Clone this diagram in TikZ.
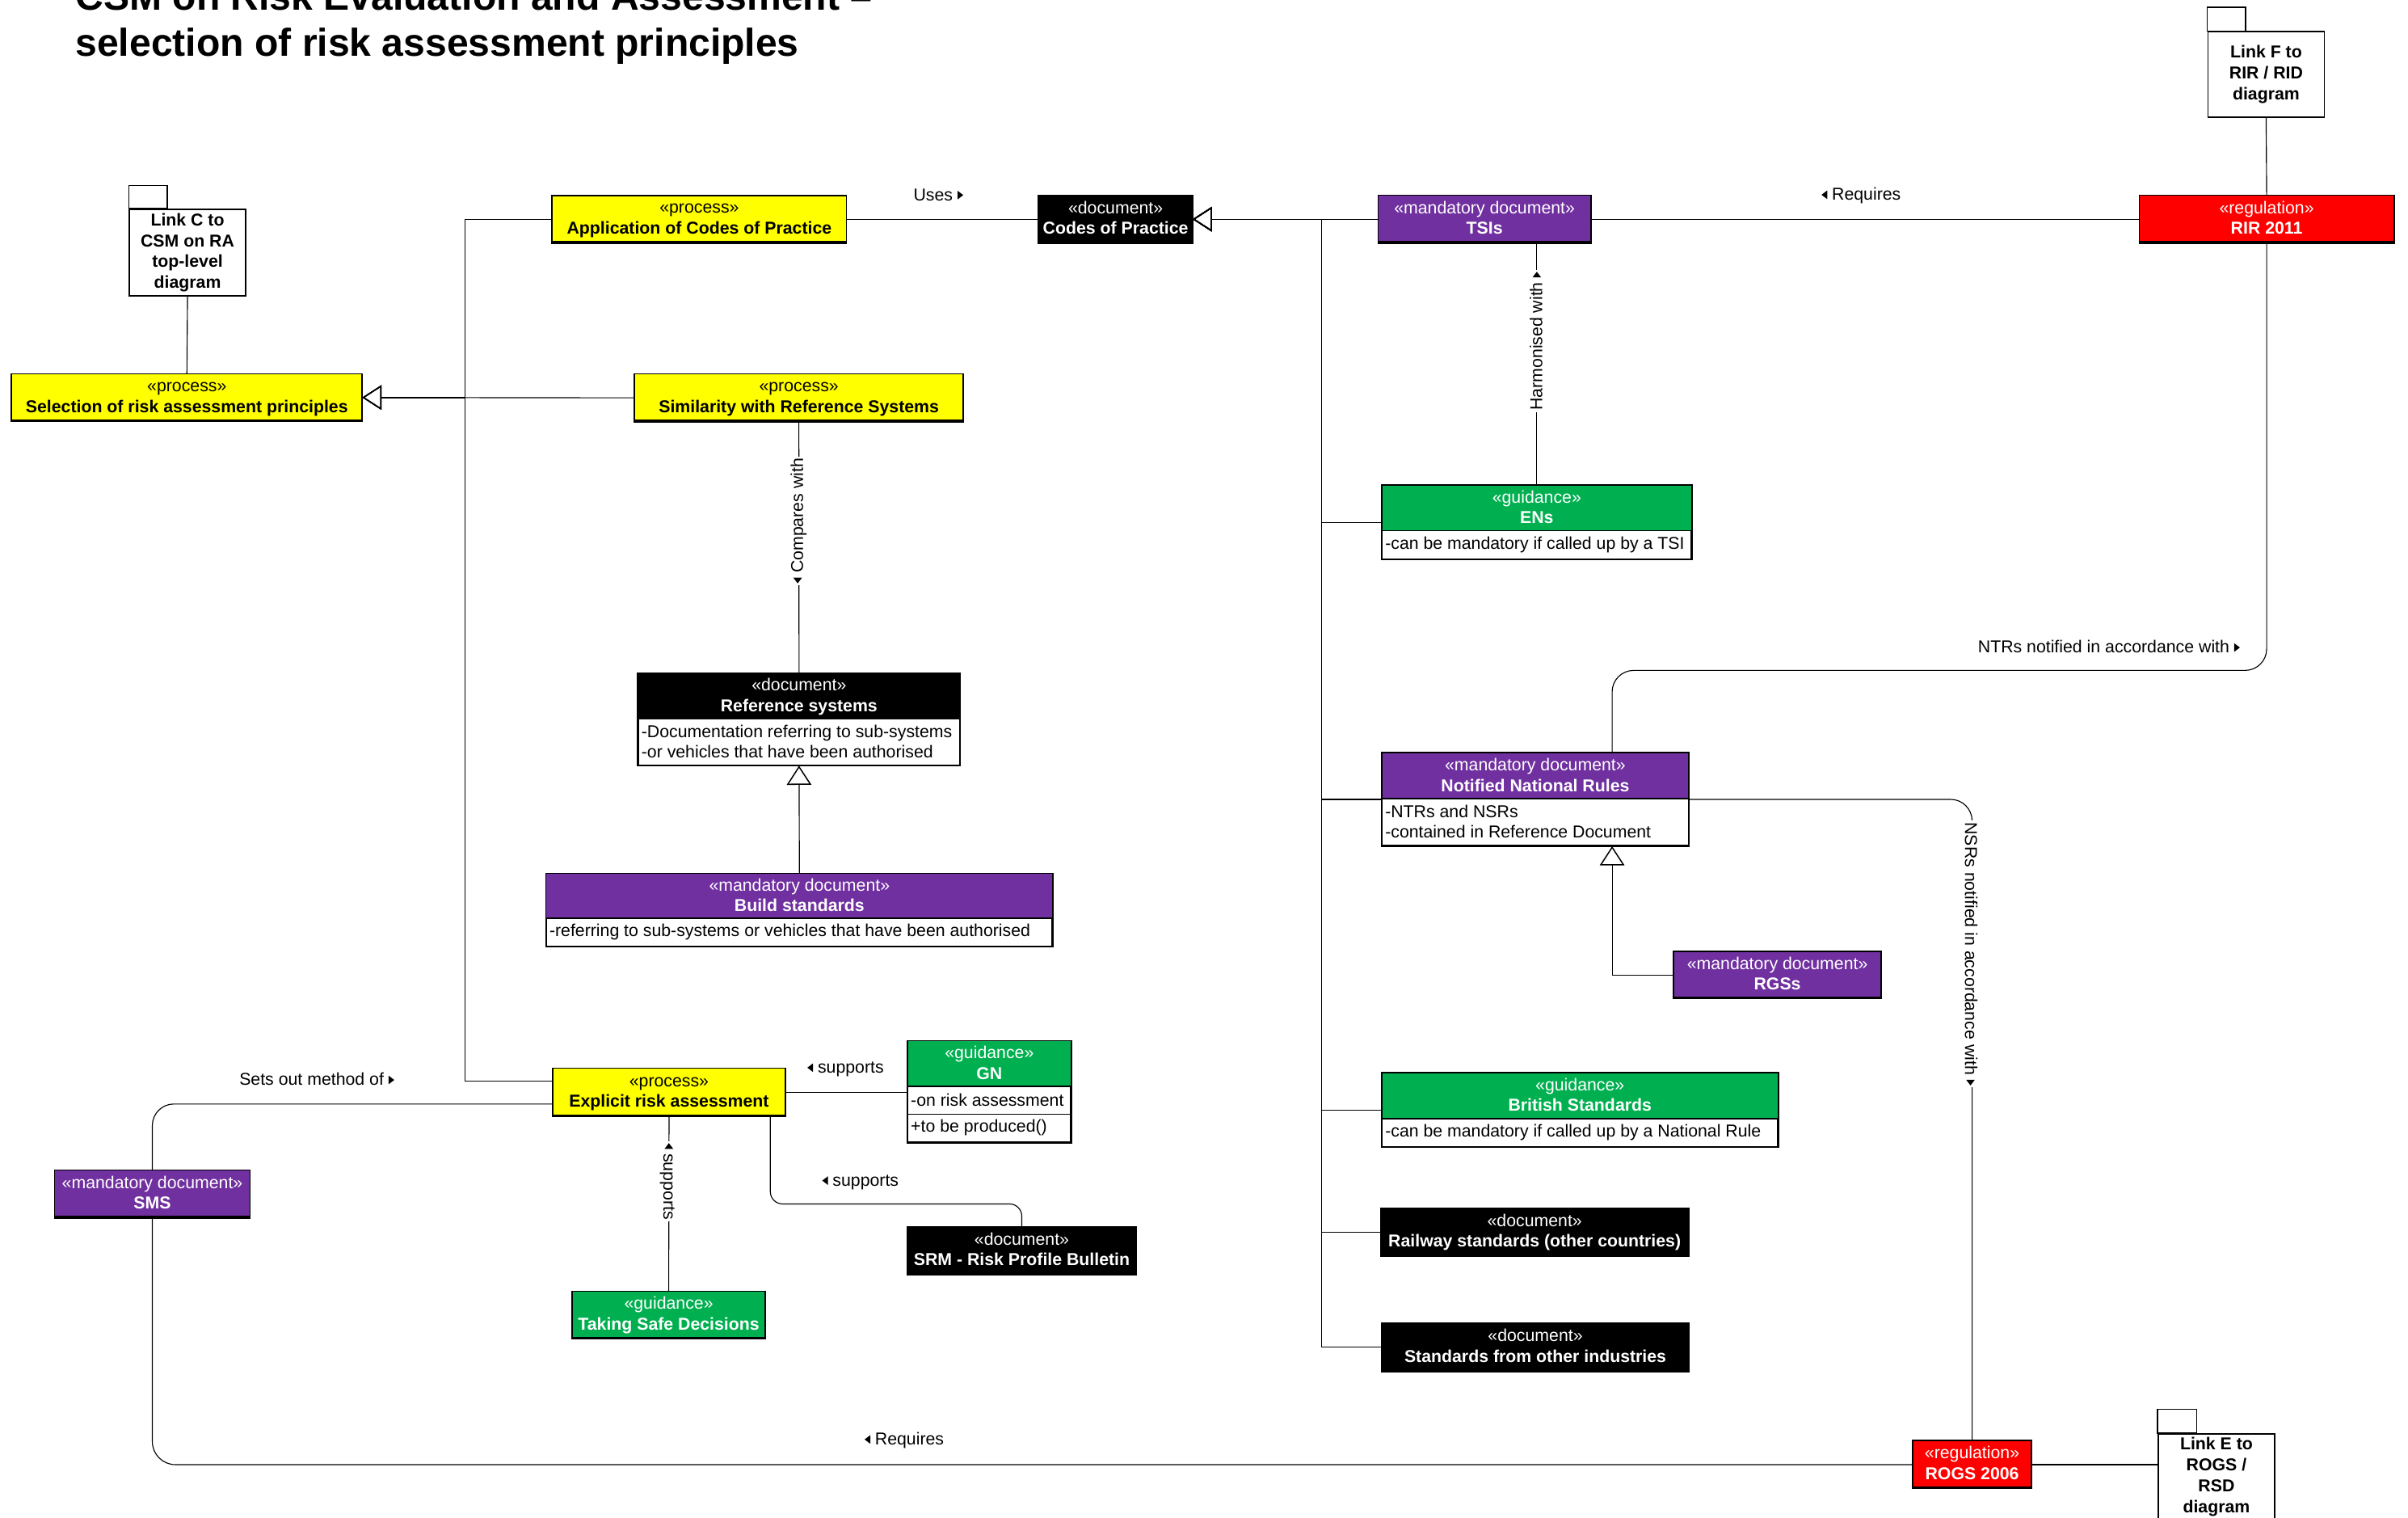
\documentclass[tikz,border=0pt]{standalone}
\usepackage{fontspec}
\setmainfont{Liberation Sans}
\usetikzlibrary{arrows.meta,calc}

\definecolor{procY}{HTML}{FFFF00}
\definecolor{mandP}{HTML}{7030A0}
\definecolor{guidG}{HTML}{00B050}
\definecolor{regR}{HTML}{FF0000}

% small direction triangles used in connector labels
\newcommand{\rtri}{\tikz[baseline=0pt,x=1pt,y=1pt]\fill (0,0.7) -- (3.7,3.5) -- (0,6.3) -- cycle;}
\newcommand{\ltri}{\tikz[baseline=0pt,x=1pt,y=1pt]\fill (3.7,0.7) -- (0,3.5) -- (3.7,6.3) -- cycle;}
% struts keeping the two header lines at fixed positions
\newcommand{\hs}{\rule{0pt}{9pt}}
\newcommand{\ds}{\rule[-2pt]{0pt}{2pt}}

\tikzset{
  frame/.style={draw=black, line width=0.9pt},
  box/.style={frame, fill=white, inner sep=0pt, anchor=north west},
  proc/.style={fill=procY}, proc txt/.style={text=black},
  docu/.style={fill=black}, docu txt/.style={text=white},
  mand/.style={fill=mandP}, mand txt/.style={text=white},
  guid/.style={fill=guidG}, guid txt/.style={text=white},
  regl/.style={fill=regR}, regl txt/.style={text=white},
  htxt/.style={inner sep=0pt, align=center, font=\fontsize{11.2}{13.5}\selectfont},
  attr/.style={inner xsep=2.2pt, inner ysep=0pt, anchor=west, align=left, text=black, font=\fontsize{11.2}{13.4}\selectfont},
  pkg/.style={box, align=center, font=\fontsize{11.2}{13.6}\selectfont\bfseries},
  conn/.style={draw=black, line width=0.6pt},
  gen/.style={conn, -{Triangle[open, length=12.5pt, width=16pt, line width=0.8pt]}},
  lbl/.style={inner sep=0pt, anchor=base west, font=\fontsize{11.2}{13}\selectfont},
  vlbl/.style={inner sep=1.2pt, fill=white, font=\fontsize{11.2}{13}\selectfont},
}

% class box: name, colour style, x, y (top left), width, total height, header height, stereotype, title
\newcommand{\umlclass}[9]{%
  \node[box, minimum width=#5pt, minimum height=#6pt] (#1) at (#3,#4) {};
  \fill[#2] (#1.north west) rectangle ($(#1.north east)+(0,#7)$);
  \draw[frame] (#1.north west) rectangle (#1.south east);
  \draw[frame] ($(#1.north west)+(0,#7)$) -- ($(#1.north east)+(0,#7)$);
  \node[htxt, #2 txt] (#1-name) at ($(#1.north)+(0,#7/2)$) {\hs«#8»\\\textbf{#9}\ds};
}

\begin{document}
\begin{tikzpicture}[x=1pt, y=-1pt]
\useasboundingbox (0,0) rectangle (1568,988);
\clip (0,0) rectangle (1568,988);
\fill[white] (0,0) rectangle (1568,988);

% title
\node[anchor=base west, inner sep=0pt, font=\fontsize{25.3}{30}\selectfont\bfseries] (title1) at (49,6.5) {CSM on Risk Evaluation and Assessment –};
\node[anchor=base west, inner sep=0pt, font=\fontsize{25.3}{30}\selectfont\bfseries] (title2) at (49,36.5) {selection of risk assessment principles};

% processes
\umlclass{sel}{proc}{7.5}{243.3}{227.5}{30}{30}{process}{Selection of risk assessment principles}
\umlclass{app}{proc}{359.5}{127.2}{190.8}{30.1}{30.1}{process}{Application of Codes of Practice}
\umlclass{sim}{proc}{413.2}{243.3}{213.1}{30.4}{30.4}{process}{Similarity with Reference Systems}
\umlclass{era}{proc}{360}{695.4}{150.4}{30.4}{30.4}{process}{Explicit risk assessment}

% documents and regulations
\umlclass{cop}{docu}{676.3}{127}{99.4}{30.5}{30.5}{document}{Codes of Practice}
\umlclass{tsi}{mand}{897.4}{127}{137.6}{30.5}{30.5}{mandatory document}{TSIs}
\umlclass{rir}{regl}{1393}{127}{165}{30.5}{30.5}{regulation}{RIR 2011}

\umlclass{ens}{guid}{899.6}{315.7}{201.3}{47.7}{29.8}{guidance}{ENs}
\node[attr] (ens-a) at ($(ens.north west)+(0,38.8)$) {-can be mandatory if called up by a TSI};

\umlclass{refs}{docu}{415.3}{438.1}{209.1}{59.4}{30}{document}{Reference systems}
\node[attr] (refs-a) at ($(refs.north west)+(0,44.7)$) {-Documentation referring to sub-systems\\-or vehicles that have been authorised};

\umlclass{build}{mand}{355.4}{568.5}{329.4}{46.9}{29.3}{mandatory document}{Build standards}
\node[attr] (build-a) at ($(build.north west)+(0,38.1)$) {-referring to sub-systems or vehicles that have been authorised};

\umlclass{nnr}{mand}{899.6}{489.9}{199.3}{60}{30.1}{mandatory document}{Notified National Rules}
\node[attr] (nnr-a) at ($(nnr.north west)+(0,45)$) {-NTRs and NSRs\\-contained in Reference Document};

\umlclass{rgs}{mand}{1089.6}{619.2}{134.6}{30}{30}{mandatory document}{RGSs}

\umlclass{bs}{guid}{899.6}{698.1}{257.5}{47.9}{30.1}{guidance}{British Standards}
\node[attr] (bs-a) at ($(bs.north west)+(0,39)$) {-can be mandatory if called up by a National Rule};

\umlclass{rw}{docu}{899}{786.4}{199.7}{30.5}{30.5}{document}{Railway standards (other countries)}
\umlclass{soi}{docu}{899.5}{861}{199.6}{31}{31}{document}{Standards from other industries}

\umlclass{gn}{guid}{590.7}{677.5}{106.1}{65.6}{29.8}{guidance}{GN}
\draw[frame] ($(gn.north west)+(0,47.8)$) -- ($(gn.north east)+(0,47.8)$);
\node[attr] (gn-a) at ($(gn.north west)+(0,38.8)$) {-on risk assessment};
\node[attr] (gn-o) at ($(gn.north west)+(0,56.7)$) {+to be produced()};

\umlclass{sms}{mand}{35.5}{761.7}{126.5}{30.2}{30.2}{mandatory document}{SMS}
\umlclass{tsd}{guid}{372.7}{840.5}{124.6}{30}{30}{guidance}{Taking Safe Decisions}
\umlclass{srm}{docu}{590.7}{798.6}{148.4}{30.1}{30.1}{document}{SRM - Risk Profile Bulletin}
\umlclass{rogs}{regl}{1245.6}{937.8}{76.2}{30.3}{30.3}{regulation}{ROGS 2006}

% links to other diagrams
\node[pkg, minimum width=75.5pt, minimum height=56.2pt] (linkC) at (83.9,135.9) {Link C to\\CSM on RA\\top-level\\diagram};
\draw[frame, fill=white] (linkC.north west) rectangle ++(25.2,-15.2);
\node[pkg, minimum width=75.7pt, minimum height=55.7pt] (linkF) at (1437.3,20.2) {Link F to\\RIR / RID\\diagram};
\draw[frame, fill=white] (linkF.north west) rectangle ++(25.1,-15.3);
\node[pkg, minimum width=76pt, minimum height=56pt] (linkE) at (1404.8,932.8) {Link E to\\ROGS /\\RSD\\diagram};
\draw[frame, fill=white] (linkE.north west) rectangle ++(25.6,-15.4);

% generalisations
\coordinate (jl) at ($(sel.east)+(67,0)$);
\coordinate (jr) at ($(cop.east)+(84,0)$);
\draw[gen] (sim.west) -- (sel.east);
\draw[gen] (app.west) -| (jl) -- (sel.east);
\draw[gen] ($(era.west)+(0,-7.3)$) -| (jl) -- (sel.east);
\draw[conn, line width=1.1pt, shorten >=12.5pt] (jl) -- (sel.east);
\draw[gen] (tsi.west) -- (cop.east);
\foreach \n in {ens,nnr,bs,rw,soi} \draw[gen] (\n.west) -| (jr) -- (cop.east);
\draw[gen] (build.north) -- (refs.south);
\coordinate (ntr) at ($(nnr.north west)!0.75!(nnr.north east)$);
\coordinate (nsb) at ($(nnr.south west)!0.75!(nnr.south east)$);
\draw[gen] (rgs.west) -| (nsb);

% associations
\draw[conn] (linkC.south) -- (sel.north);
\draw[conn] (app.east) -- (cop.west);
\draw[conn] (tsi.east) -- (rir.west);
\draw[conn] (linkF.south) -- (rir.north);
\draw[conn] (ens.north) -- (ens.north |- tsi.south);
\draw[conn] (sim.south) -- (refs.north);
\draw[conn, rounded corners=14pt] (rir.south) |- ($(ntr)+(0,-53.5)$) -- (ntr);
\draw[conn, rounded corners=14pt] (nnr.east) -| (rogs.north);
\draw[conn] (era.east) -- (era.east -| gn.west);
\draw[conn] (era.south) -- (tsd.north);
\coordinate (eraS) at ($(era.south east)+(-9.7,0)$);
\draw[conn, rounded corners=8pt] (eraS) |- ($(srm.north)+(0,-14.9)$) -- (srm.north);
\draw[conn, rounded corners=14pt] ($(era.west)+(0,7.6)$) -| (sms.north);
\draw[conn, rounded corners=15pt] (sms.south) |- (rogs.west);
\draw[conn] (rogs.east) -- (rogs.east -| linkE.west);

% connector labels
\node[lbl] (l-uses) at (594.7,130.5) {Uses \rtri};
\node[lbl] (l-req1) at (1185.9,130.3) {\ltri\ Requires};
\node[lbl] (l-ntr) at (1287.8,425) {NTRs notified in accordance with \rtri};
\node[lbl] (l-sets) at (155.7,706.5) {Sets out method of \rtri};
\node[lbl] (l-sup1) at (525.5,698.5) {\ltri\ supports};
\node[lbl] (l-sup2) at (535.2,772) {\ltri\ supports};
\node[lbl] (l-req2) at (562.8,940.5) {\ltri\ Requires};
\node[vlbl, rotate=90] (l-cmp) at (520,339) {\ltri\ Compares with};
\node[vlbl, rotate=90] (l-harm) at (1000.2,222) {Harmonised with \rtri};
\node[vlbl, rotate=-90] (l-sup3) at (434.5,769) {\ltri\ supports};
\node[vlbl, rotate=-90] (l-nsr) at (1283.6,621) {NSRs notified in accordance with \rtri};
\end{tikzpicture}
\end{document}
